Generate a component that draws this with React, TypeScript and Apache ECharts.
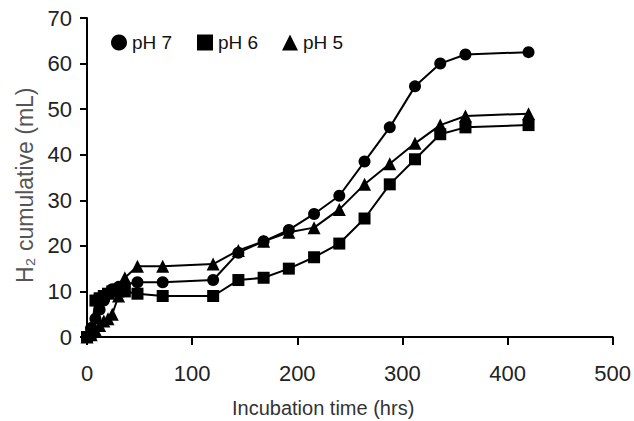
import React, { useEffect, useRef } from "react";
import * as echarts from "echarts";

const hours = [0, 4, 8, 12, 16, 20, 24, 30, 36, 48, 72, 120, 144, 168, 192, 216, 240, 264, 288, 312, 336, 360, 420];
const ph7 = [0, 2, 4, 6, 8, 9.5, 10.5, 11, 11.5, 12, 12, 12.5, 18.5, 21, 23.5, 27, 31, 38.5, 46, 55, 60, 62, 62.5];
const ph6 = [0, 1, 8, 8.5, 9, 9.5, 10, 10, 10, 9.5, 9, 9, 12.5, 13, 15, 17.5, 20.5, 26, 33.5, 39, 44.5, 46, 46.5];
const ph5 = [0, 0.5, 1.5, 2.5, 3.5, 4, 5, 9, 13, 15.5, 15.5, 16, 19, 21, 23, 24, 28, 33.5, 38, 42.5, 46.5, 48.5, 49];
const seriesNames = ["pH 7", "pH 6", "pH 5"];
const xTicks = [0, 100, 200, 300, 400, 500];
const yTicks = [0, 10, 20, 30, 40, 50, 60, 70];

const SANS = '"Liberation Sans", Arial, sans-serif';

export default function App() {
  const ref = useRef<HTMLDivElement>(null);
  useEffect(() => {
    if (!ref.current) return;
    const chart = echarts.init(ref.current, undefined, { renderer: "svg" });
    const pair = (vals: number[]) => hours.map((h, i) => [h, vals[i]]);
    const symbols = ["circle", "rect", "triangle"];
    const sizes = [12, 12, 13];
    const data = [ph7, ph6, ph5];
    const legendLefts = [106, 192, 277];
    chart.setOption({
      animation: false,
      backgroundColor: "#fff",
      grid: { left: 87, right: 19, top: 18, bottom: 84 },
      legend: seriesNames.map((n, i) => ({
        left: legendLefts[i],
        top: 28,
        itemWidth: 16,
        itemHeight: 16,
        itemGap: 4,
        textStyle: { fontFamily: SANS, fontSize: 19, color: "#111" },
        data: [{ name: n, icon: symbols[i] }],
      })),
      xAxis: {
        type: "value",
        min: 0,
        max: 500,
        interval: 100,
        axisLine: { lineStyle: { color: "#000", width: 2 } },
        axisTick: { show: true, length: 8, lineStyle: { color: "#000", width: 2 } },
        axisLabel: {
          margin: 25,
          fontFamily: SANS,
          fontSize: 22,
          color: "#222",
          formatter: (v: number) => (xTicks.includes(v) ? String(v) : ""),
        },
        splitLine: { show: false },
      },
      yAxis: {
        type: "value",
        min: 0,
        max: 70,
        interval: 10,
        axisLine: { show: true, lineStyle: { color: "#000", width: 2 } },
        axisTick: { show: true, length: 7, lineStyle: { color: "#000", width: 2 } },
        axisLabel: {
          margin: 15,
          fontFamily: SANS,
          fontSize: 22,
          color: "#222",
          formatter: (v: number) => (yTicks.includes(v) ? String(v) : ""),
        },
        splitLine: { show: false },
      },
      graphic: [
        {
          type: "text",
          left: 232,
          top: 398,
          style: {
            text: "Incubation time (hrs)",
            font: `20px ${SANS}`,
            fill: "#333",
          },
        },
        {
          type: "text",
          x: 13,
          y: 283,
          rotation: Math.PI / 2,
          style: {
            text: "H\u2082 cumulative (mL)",
            font: `23px ${SANS}`,
            fill: "#555",
            textAlign: "left",
            textVerticalAlign: "top",
          },
        },
      ],
      series: seriesNames.map((n, i) => ({
        name: n,
        type: "line",
        data: pair(data[i]),
        symbol: symbols[i],
        symbolSize: sizes[i],
        showAllSymbol: true,
        itemStyle: { color: "#000" },
        lineStyle: { color: "#000", width: 2 },
      })),
    });
    return () => chart.dispose();
  }, []);
  return <div ref={ref} style={{ width: 634, height: 421, position: "absolute", left: 0, top: 0 }} />;
}
